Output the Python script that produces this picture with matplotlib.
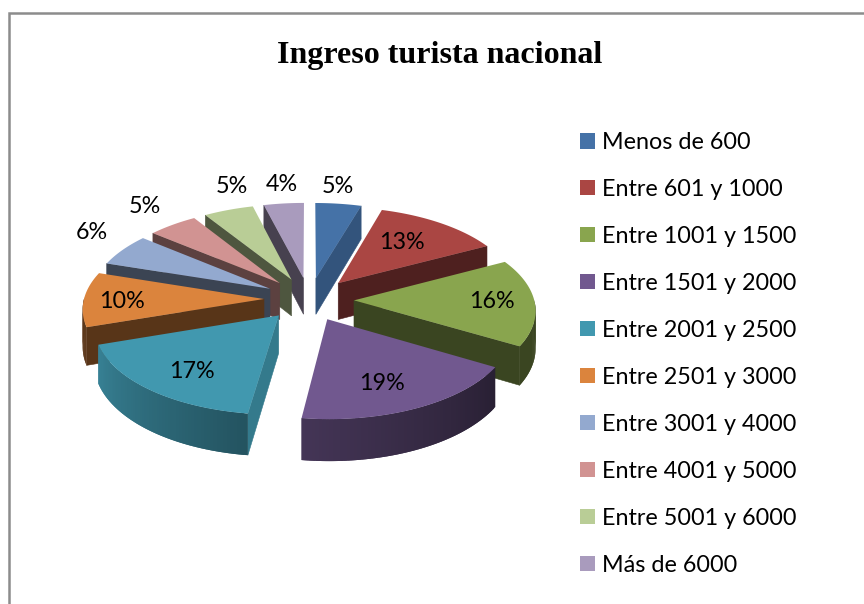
import numpy as np
import matplotlib
matplotlib.use('Agg')
import matplotlib.pyplot as plt
from matplotlib.patches import Patch
from matplotlib.colors import to_rgb

categories = ['Menos de 600', 'Entre 601 y 1000', 'Entre 1001 y 1500', 'Entre 1501 y 2000',
              'Entre 2001 y 2500', 'Entre 2501 y 3000', 'Entre 3001 y 4000', 'Entre 4001 y 5000',
              'Entre 5001 y 6000', 'Más de 6000']
values = [5, 13, 16, 19, 17, 10, 6, 5, 5, 4]

colors = ['#4572A7', '#AA4643', '#89A54E', '#71588F', '#4198AF',
          '#DB843D', '#93A9CF', '#D19392', '#B9CD96', '#A99BBD']
# how dark the cut faces and the outer wall get (wall goes from first to second)
face_dark = [0.74, 0.46, 0.42, 0.40, 0.80, 0.40, 0.40, 0.44, 0.42, 0.42]
wall_dark = [(0.7, 0.7), (0.45, 0.45), (0.42, 0.42), (0.60, 0.36), (0.85, 0.55),
             (0.42, 0.42), (0.42, 0.42), (0.45, 0.45), (0.42, 0.42), (0.42, 0.42)]
label_r = [1.55, 0.85, 1.0, 0.93, 0.97, 1.03, 1.5, 1.5, 1.55, 1.55]
# small pixel corrections for the percentage labels
label_nudge = [(-9, 3), (-2, -5), (2, -3), (1, 4), (7, 5), (-2, 3), (4, -8), (-3, -5), (20, -5), (3, 1)]
# the 3D view pulls the slice edges round a little
edge_warp = [0, 1.5, 2.5, 2, 3, 0.5, 0, 0, 0, 0, 0]

CX, CY = 309, 299
RX = 180
RY = 86.2
PERSP = 0.096
EXPLODE = 0.25
DEPTH = 37


def project(x, y, z=0):
    s = 1 / (1 + PERSP * y)
    return CX + RX * x * s, CY - RY * y * s + DEPTH * z * s


def shade(color, k):
    return tuple(c * k for c in to_rgb(color))


def compass(a):
    return np.sin(np.radians(a)), np.cos(np.radians(a))


fig = plt.figure(figsize=(8.64, 6.04), dpi=100)
ax = fig.add_axes([0, 0, 1, 1])
ax.set_xlim(0, 864)
ax.set_ylim(604, 0)
ax.axis('off')

# chart border, only left and top are inside the crop
ax.plot([9, 9, 864], [604, 12.5, 12.5], color='#8c8c8c', lw=1.8, solid_joinstyle='miter')

edges = np.cumsum([0] + values) / sum(values) * 360
mids = (edges[:-1] + edges[1:]) / 2
edges = edges - np.array(edge_warp)

# back slices first
order = sorted(range(len(values)), key=lambda i: -compass(mids[i])[1])
for i in order:
    a0, a1 = edges[i], edges[i + 1]
    ex, ey = compass(mids[i])
    tx, ty = ex * EXPLODE, ey * EXPLODE
    theta = np.linspace(a0, a1, int(a1 - a0) + 2)
    ox = tx + np.sin(np.radians(theta))
    oy = ty + np.cos(np.radians(theta))

    # cut faces
    for a, sign in ((a0, -1), (a1, 1)):
        if sign * np.sin(np.radians(a)) > 0:
            ux, uy = compass(a)
            ends = [(tx, ty, 0), (tx + ux, ty + uy, 0), (tx + ux, ty + uy, 1), (tx, ty, 1)]
            pts = [project(*p) for p in ends]
            ax.fill([p[0] for p in pts], [p[1] for p in pts], color=shade(colors[i], face_dark[i]),
                    lw=0.4, zorder=2 + order.index(i) * 3)

    # outer wall, only the part turned to the viewer
    # each piece overlaps the next one so no white seams show
    for j in range(len(theta) - 1):
        if np.cos(np.radians(theta[j])) + np.cos(np.radians(theta[j + 1])) > 0:
            continue
        f = j / max(len(theta) - 2, 1)
        k = wall_dark[i][0] + (wall_dark[i][1] - wall_dark[i][0]) * (1 - f)
        n = min(j + 2, len(theta) - 1)
        ends = [(ox[j], oy[j], 0), (ox[j + 1], oy[j + 1], 0), (ox[n], oy[n], 0),
                (ox[n], oy[n], 1), (ox[j + 1], oy[j + 1], 1), (ox[j], oy[j], 1)]
        pts = [project(*p) for p in ends]
        ax.fill([p[0] for p in pts], [p[1] for p in pts], color=shade(colors[i], k),
                lw=0, zorder=3 + order.index(i) * 3)

    # top face
    px, py = project(np.r_[tx, ox], np.r_[ty, oy])
    ax.fill(px, py, color=colors[i], lw=0, zorder=4 + order.index(i) * 3)

# percentage labels
for i, v in enumerate(values):
    ex, ey = compass(mids[i])
    lx, ly = project(ex * label_r[i], ey * label_r[i])
    ax.text(lx + label_nudge[i][0], ly + label_nudge[i][1], '%d%%' % v, ha='center', va='center',
            fontsize=16.8, family='Lato', zorder=100)

ax.text(440, 56, 'Ingreso turista nacional', ha='center', va='center', fontsize=23,
        family='Liberation Serif', fontweight='bold')

handles = [Patch(facecolor=c, edgecolor='none') for c in colors]
ax.legend(handles, categories, loc='upper left', bbox_to_anchor=(580 / 864, 1 - 132 / 604), frameon=False,
          prop={'family': 'Lato', 'size': 16.8}, handlelength=0.64, handleheight=0.64, handletextpad=0.3,
          labelspacing=1.113, borderpad=0, borderaxespad=0)

fig.savefig('out.png', dpi=100)
